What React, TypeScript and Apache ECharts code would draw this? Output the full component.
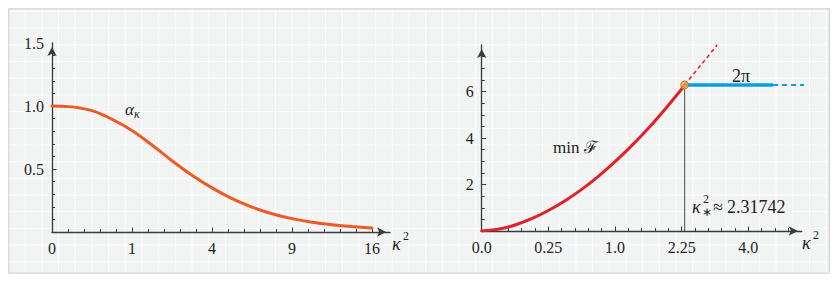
import React, { useEffect, useRef } from 'react';
import * as echarts from 'echarts';

// ---- Left panel: alpha_kappa versus kappa (axis labelled in kappa^2) ----
const alphaKappa = [0, 0.25, 0.5, 0.75, 1, 1.25, 1.5, 1.75, 2, 2.25, 2.5, 2.75, 3, 3.25, 3.5, 3.75, 4];
const alphaValues = [1.0, 0.993, 0.963, 0.895, 0.805, 0.69, 0.565, 0.45, 0.35, 0.265, 0.198, 0.145, 0.106, 0.078, 0.058, 0.043, 0.032];
const leftXLabelValues = [0, 1, 2, 3, 4];
const leftXLabels = ['0', '1', '4', '9', '16'];
const leftYLabelValues = [0.5, 1.0, 1.5];
const leftYLabels = ['0.5', '1.0', '1.5'];

// ---- Right panel: min F versus kappa ----
const kappaStarSq = 2.31742;
const kappaStar = Math.sqrt(kappaStarSq);
const twoPi = 2 * Math.PI;
const minFKappa = [0, 0.125, 0.25, 0.375, 0.5, 0.625, 0.75, 0.875, 1, 1.125, 1.25, 1.375, 1.5, kappaStar];
const minFValues = [0, 0.08, 0.26, 0.53, 0.88, 1.3, 1.79, 2.35, 2.98, 3.67, 4.42, 5.24, 6.11, twoPi];
const minFExtKappa = [kappaStar, 1.766];
const minFExtValues = [twoPi, 8.0];
const plateauKappa = [kappaStar, 2.185];
const plateauDashKappa = [2.185, 2.48];
const rightXLabelValues = [0, 0.5, 1, 1.5, 2];
const rightXLabels = ['0.0', '0.25', '1.0', '2.25', '4.0'];
const rightYLabelValues = [2, 4, 6];
const rightYLabels = ['2', '4', '6'];

const SERIF = 'Liberation Serif';
const AXIS_COLOR = '#3a3a3a';
const TEXT_COLOR = '#1e1e1e';

function steps(from: number, to: number, step: number): number[] {
  const out: number[] = [];
  const n = Math.round((to - from) / step);
  for (let i = 0; i <= n; i++) out.push(+(from + i * step).toFixed(6));
  return out;
}

function labelFor(values: number[], labels: string[]) {
  return (v: number) => {
    const i = values.findIndex((x) => Math.abs(x - v) < 1e-6);
    return i >= 0 ? labels[i] : '';
  };
}

function axisBase(gridIndex: number, min: number, max: number, labelValues: number[], labels: string[], ticks: number[]) {
  return {
    type: 'value',
    gridIndex,
    min,
    max,
    splitLine: { show: false },
    axisLine: {
      show: true,
      onZero: false,
      symbol: ['none', 'arrow'],
      symbolSize: [7, 9],
      symbolOffset: [0, -4],
      lineStyle: { color: AXIS_COLOR, width: 1.3 },
    },
    axisTick: {
      show: true,
      inside: true,
      length: 3,
      customValues: ticks,
      lineStyle: { color: AXIS_COLOR, width: 1 },
    },
    axisLabel: {
      show: true,
      customValues: labelValues,
      formatter: labelFor(labelValues, labels),
      fontFamily: SERIF,
      fontSize: 16,
      color: TEXT_COLOR,
      margin: 8,
    },
  };
}

// second axis on the same grid, only drawing the slightly longer major ticks
function majorTicks(gridIndex: number, min: number, max: number, position: string, ticks: number[]) {
  return {
    type: 'value',
    gridIndex,
    min,
    max,
    position,
    offset: 0,
    splitLine: { show: false },
    axisLine: { show: false, onZero: false },
    axisLabel: { show: false },
    axisTick: {
      show: true,
      inside: true,
      length: 4.5,
      customValues: ticks,
      lineStyle: { color: AXIS_COLOR, width: 1 },
    },
  };
}

function txt(text: string, x: number, y: number, size: number, italic = false, align = 'left') {
  return {
    type: 'text',
    x,
    y,
    z: 100,
    style: {
      text,
      fontFamily: SERIF,
      fontSize: size,
      fontStyle: italic ? 'italic' : 'normal',
      fill: TEXT_COLOR,
      align,
      verticalAlign: 'middle',
    },
  };
}

export default function App() {
  const ref = useRef<HTMLDivElement>(null);

  useEffect(() => {
    if (!ref.current) return;
    const chart = echarts.init(ref.current, undefined, { renderer: 'svg' });

    const pairs = (xs: number[], ys: number[]) => xs.map((x, i) => [x, ys[i]]);

    chart.setOption({
      animation: false,
      backgroundColor: 'transparent',
      textStyle: { fontFamily: SERIF },
      grid: [
        { left: 44, top: 35, width: 338, height: 189, containLabel: false, outerBoundsMode: 'none' },
        { left: 473.7, top: 37, width: 320, height: 186, containLabel: false, outerBoundsMode: 'none' },
      ],
      xAxis: [
        axisBase(0, 0, 4.225, leftXLabelValues, leftXLabels, steps(0, 4, 0.2)),
        axisBase(1, 0, 2.4, rightXLabelValues, rightXLabels, steps(0, 2.3, 0.1)),
        majorTicks(0, 0, 4.225, 'bottom', leftXLabelValues),
        majorTicks(1, 0, 2.4, 'bottom', rightXLabelValues),
      ],
      yAxis: [
        axisBase(0, 0, 1.5, leftYLabelValues, leftYLabels, steps(0, 1.4, 0.1)),
        axisBase(1, 0, 8, rightYLabelValues, rightYLabels, steps(0, 7.5, 0.5)),
        majorTicks(0, 0, 1.5, 'left', [0.5, 1.0]),
        majorTicks(1, 0, 8, 'left', rightYLabelValues),
      ],
      series: [
        {
          type: 'line',
          xAxisIndex: 0,
          yAxisIndex: 0,
          data: pairs(alphaKappa, alphaValues),
          smooth: 0.25,
          showSymbol: false,
          lineStyle: { color: '#ee5a24', width: 3, cap: 'round' },
          z: 3,
        },
        {
          type: 'line',
          xAxisIndex: 1,
          yAxisIndex: 1,
          data: [[kappaStar, 0], [kappaStar, twoPi]],
          showSymbol: false,
          lineStyle: { color: '#4a4a4a', width: 1 },
          z: 2,
        },
        {
          type: 'line',
          xAxisIndex: 1,
          yAxisIndex: 1,
          data: pairs(minFKappa, minFValues),
          smooth: 0.25,
          showSymbol: false,
          lineStyle: { color: '#e3202a', width: 3, cap: 'round' },
          z: 3,
        },
        {
          type: 'line',
          xAxisIndex: 1,
          yAxisIndex: 1,
          data: pairs(minFExtKappa, minFExtValues),
          showSymbol: false,
          clip: false,
          lineStyle: { color: '#e3202a', width: 1.5, type: [4, 3] },
          z: 3,
        },
        {
          type: 'line',
          xAxisIndex: 1,
          yAxisIndex: 1,
          data: plateauKappa.map((k) => [k, twoPi]),
          showSymbol: false,
          lineStyle: { color: '#0a9fe0', width: 3.5 },
          z: 3,
        },
        {
          type: 'line',
          xAxisIndex: 1,
          yAxisIndex: 1,
          data: plateauDashKappa.map((k) => [k, twoPi]),
          showSymbol: false,
          clip: false,
          lineStyle: { color: '#0a9fe0', width: 2, type: [5, 4] },
          z: 3,
        },
        {
          type: 'scatter',
          xAxisIndex: 1,
          yAxisIndex: 1,
          data: [[kappaStar, twoPi]],
          symbolSize: 8,
          itemStyle: { color: '#f5a243', borderColor: '#c0642a', borderWidth: 1 },
          z: 5,
        },
      ],
      graphic: [
        txt('α', 117, 101.5, 17, true),
        txt('κ', 126, 106, 12, true),
        txt('min ℱ', 545, 139, 17, false),
        txt('2π', 733, 68, 18, false, 'center'),
        txt('κ', 684, 199, 18, true),
        txt('2', 695, 191, 12, false),
        txt('∗', 694, 204, 12, false),
        txt('≈', 705, 199, 18, false),
        txt('2.31742', 719, 199, 18, false),
        txt('κ', 384, 236, 18, true),
        txt('2', 395, 228, 12, false),
        txt('κ', 794, 235, 18, true),
        txt('2', 805, 227, 12, false),
      ],
    });

    return () => chart.dispose();
  }, []);

  const grid = 'rgba(255,255,255,0.85)';
  return (
    <div
      style={{
        position: 'relative',
        width: 822,
        height: 266,
        backgroundColor: '#f2f3f3',
        backgroundImage: `linear-gradient(to right, ${grid} 1px, transparent 1px), linear-gradient(to bottom, ${grid} 1px, transparent 1px)`,
        backgroundSize: '16.7px 16.7px',
        backgroundPosition: '0px 3px',
        boxShadow: 'inset 0 0 0 1.5px #dadada',
      }}
    >
      <div ref={ref} style={{ position: 'absolute', left: 0, top: 0, width: 822, height: 266 }} />
    </div>
  );
}
